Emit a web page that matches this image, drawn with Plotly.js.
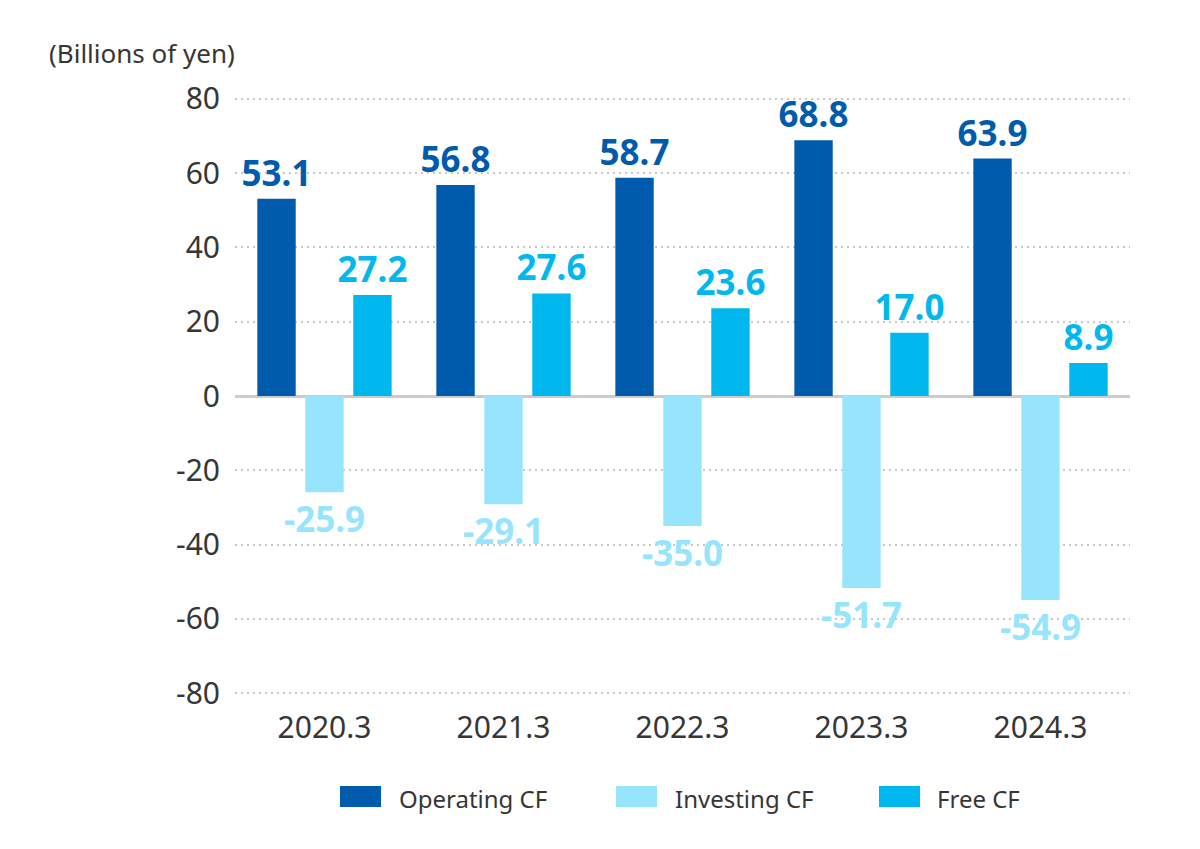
<!DOCTYPE html>
<html>
<head>
<meta charset="utf-8">
<script src="https://cdn.plot.ly/plotly-3.0.1.min.js"></script>
<style>
  html, body { margin: 0; padding: 0; background: #fff; }
  #chart { width: 1200px; height: 849px; }
</style>
</head>
<body>
<div id="chart"></div>
<script>
// fiscal years (March year-end)
const years = ["2020.3", "2021.3", "2022.3", "2023.3", "2024.3"];

// cash flows, billions of yen
const operatingCF = [53.1, 56.8, 58.7, 68.8, 63.9];
const investingCF = [-25.9, -29.1, -35.0, -51.7, -54.9];
const freeCF = [27.2, 27.6, 23.6, 17.0, 8.9];

const seriesNames = ["Operating CF", "Investing CF", "Free CF"];
const seriesColors = ["#005bac", "#96e5fd", "#00b8ee"];

const yTicks = [-80, -60, -40, -20, 0, 20, 40, 60, 80];

const fontFamily = "'Noto Sans', 'Open Sans', sans-serif";
const textColor = "#363636";

// plot area in pixels, used to place the title and the hand-made legend
const plotLeft = 235, plotWidth = 895, plotBottom = 697, plotHeight = 602;
function paperX(px) { return (px - plotLeft) / plotWidth; }
function paperY(py) { return (plotBottom - py) / plotHeight; }

function makeTrace(i, values) {
  return {
    type: "bar",
    name: seriesNames[i],
    x: years,
    y: values,
    marker: { color: seriesColors[i] },
    text: values.map(v => v.toFixed(1)),
    textposition: "outside",
    constraintext: "none",
    cliponaxis: false,
    textfont: { family: fontFamily, size: 35, color: seriesColors[i], weight: 700 },
    hoverinfo: "skip",
    showlegend: false
  };
}

const data = [
  makeTrace(0, operatingCF),
  makeTrace(1, investingCF),
  makeTrace(2, freeCF)
];

// legend: wide colour swatches followed by the series name
const legendBoxes = [340, 616, 879];
const legendTexts = [397, 673, 935];
const shapes = [];
const annotations = [{
  text: "(Billions of yen)",
  xref: "paper",
  yref: "paper",
  x: paperX(47),
  y: paperY(53),
  xanchor: "left",
  yanchor: "middle",
  showarrow: false,
  font: { size: 26, color: textColor }
}];
for (let i = 0; i < seriesNames.length; i++) {
  shapes.push({
    type: "rect",
    xref: "paper",
    yref: "paper",
    x0: paperX(legendBoxes[i]),
    x1: paperX(legendBoxes[i] + 41),
    y0: paperY(807),
    y1: paperY(786),
    fillcolor: seriesColors[i],
    line: { width: 0 }
  });
  annotations.push({
    text: seriesNames[i],
    xref: "paper",
    yref: "paper",
    x: paperX(legendTexts[i]),
    y: paperY(798),
    xanchor: "left",
    yanchor: "middle",
    showarrow: false,
    font: { size: 24, color: textColor }
  });
}

const layout = {
  width: 1200,
  height: 849,
  margin: { l: 235, r: 70, t: 95, b: 152, autoexpand: false },
  paper_bgcolor: "#fff",
  plot_bgcolor: "#fff",
  font: { family: fontFamily, color: textColor },
  barmode: "group",
  bargap: 0.196,
  bargroupgap: 0.2,
  showlegend: false,
  xaxis: {
    type: "category",
    tickfont: { size: 30, color: textColor },
    ticklabelstandoff: 10,
    showgrid: false,
    showline: false,
    zeroline: false,
    ticks: ""
  },
  yaxis: {
    range: [-81, 81],
    tickvals: yTicks,
    ticktext: yTicks.map(String),
    tickfont: { size: 30, color: textColor },
    ticklabelstandoff: 14,
    showgrid: true,
    gridcolor: "#c8c8c8",
    griddash: "2px,4px",
    gridwidth: 2,
    zeroline: true,
    zerolinecolor: "#cccccc",
    zerolinewidth: 3,
    showline: false,
    fixedrange: true
  },
  shapes: shapes,
  annotations: annotations
};

Plotly.newPlot("chart", data, layout, { displayModeBar: false, staticPlot: true });
</script>
</body>
</html>
